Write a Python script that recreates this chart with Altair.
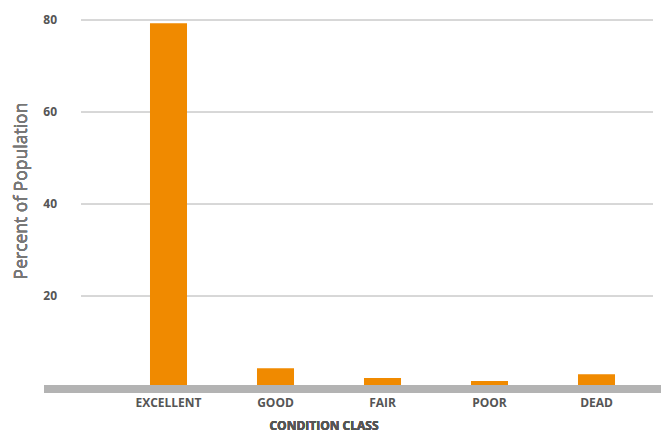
import altair as alt
import pandas as pd

categories = ["EXCELLENT", "GOOD", "FAIR", "POOR", "DEAD"]
percent = [79.3, 4.3, 2.2, 1.5, 3.0]
grid_values = [20, 40, 60, 80]
tick_labels = ["20", "40", "60", "80"]

bars_df = pd.DataFrame({"cls": categories, "pct": percent})
grid_df = pd.DataFrame({"v": grid_values, "lab": tick_labels})

W, H = 617, 368
FONT = "Open Sans"

xscale = alt.Scale(domain=categories, range=[71, 606], paddingInner=0.654, paddingOuter=0.327)
yscale = alt.Scale(domain=[0, 80], nice=False, zero=True)

grid = alt.Chart(grid_df).mark_rule(color="#b0b0b0", strokeWidth=1).encode(
    y=alt.Y("v:Q", scale=yscale, axis=None),
    x=alt.value(37), x2=alt.value(609),
)

ylabels = alt.Chart(grid_df).mark_text(
    align="right", baseline="middle", font=FONT, fontSize=12, fontWeight="bold", color="#555555"
).encode(
    y=alt.Y("v:Q", scale=yscale, axis=None),
    x=alt.value(13),
    text="lab:N",
)

bars = alt.Chart(bars_df).mark_bar(color="#F08A00").encode(
    x=alt.X("cls:N", scale=xscale, axis=None, sort=categories),
    y=alt.Y("pct:Q", scale=yscale, axis=None),
)

baseline = alt.Chart(bars_df).mark_rect(color="#b3b3b3").encode(
    x=alt.value(0), x2=alt.value(W), y=alt.value(365), y2=alt.value(373),
)

xlabels = alt.Chart(bars_df).mark_text(
    baseline="middle", font=FONT, fontSize=12, fontWeight="bold", color="#555555"
).encode(
    x=alt.X("cls:N", scale=xscale, axis=None, sort=categories),
    y=alt.value(383),
    text="cls:N",
)

xtitle = alt.Chart(bars_df).mark_text(
    baseline="middle", font=FONT, fontSize=12, fontWeight="bold", color="#555555"
).encode(
    x=alt.value(280), y=alt.value(406), text=alt.value("CONDITION CLASS"),
)

ytitle = alt.Chart(bars_df).mark_text(
    baseline="middle", align="center", angle=270, font=FONT, fontSize=17.5, color="#777777"
).encode(
    x=alt.value(-22), y=alt.value(171), text=alt.value("Percent of Population"),
)

chart = alt.layer(grid, ylabels, bars, baseline, xlabels, xtitle, ytitle).properties(
    width=W, height=H,
    autosize=alt.AutoSizeParams(type="none"),
    padding={"left": 36, "top": 12, "right": 0, "bottom": 46},
).configure_view(stroke=None)

chart.save("out.html", embed_options={"renderer": "svg", "actions": False})
